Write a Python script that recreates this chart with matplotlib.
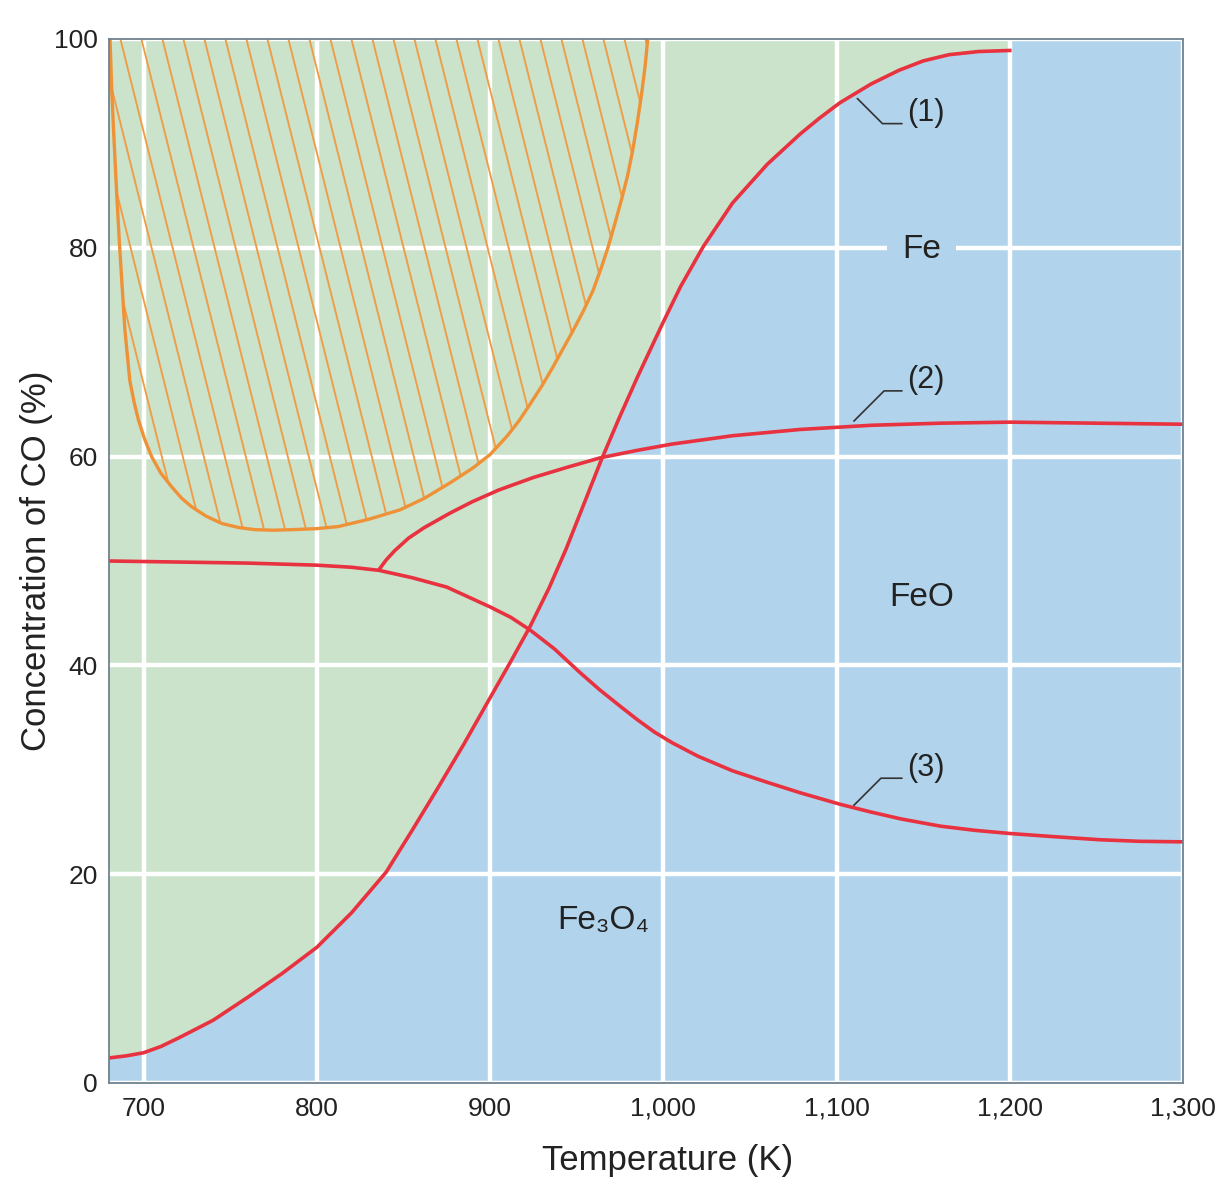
import numpy as np
import matplotlib
matplotlib.use('Agg')
import matplotlib.pyplot as plt
from matplotlib.collections import LineCollection
from matplotlib.patches import Polygon

plt.rcParams['font.family'] = ['Liberation Sans', 'DejaVu Sans']

# ---------------- data ----------------
# Curve (1): separates the green (upper-left) and blue regions
curve1_T = [680, 690, 700, 710, 720, 740, 760, 780, 800, 820, 840, 855, 870, 885, 900,
            912, 923, 934, 944, 954, 964, 974, 985, 1000, 1010, 1023, 1040, 1060, 1079,
            1090, 1102, 1120, 1136, 1150, 1165, 1182, 1200]
curve1_CO = [2.4, 2.6, 2.9, 3.5, 4.3, 6.0, 8.2, 10.5, 13.0, 16.3, 20.2, 24.2, 28.3, 32.5, 36.9,
             40.4, 43.7, 47.4, 51.2, 55.4, 59.6, 63.5, 67.6, 72.9, 76.3, 80.1, 84.3, 88.0, 90.9,
             92.4, 93.9, 95.7, 97.0, 97.9, 98.5, 98.8, 98.9]

# Curve (2): FeO / Fe equilibrium
curve2_T = [836, 840, 845, 853, 862, 877, 890, 905, 925, 945, 964, 985, 1005, 1040, 1079,
            1120, 1160, 1200, 1250, 1300]
curve2_CO = [49.2, 50.1, 51.0, 52.2, 53.2, 54.6, 55.7, 56.8, 58.0, 59.0, 59.9, 60.6, 61.2, 62.0, 62.6,
             63.0, 63.2, 63.3, 63.2, 63.1]

# Curve (3): Fe3O4 / FeO (and Fe3O4 / Fe at low T)
curve3_T = [680, 720, 760, 800, 820, 836, 855, 875, 900, 912, 923, 937, 952, 963, 975,
            985, 995, 1005, 1020, 1040, 1060, 1079, 1102, 1120, 1137, 1160, 1180, 1200,
            1225, 1252, 1275, 1300]
curve3_CO = [50.0, 49.9, 49.8, 49.6, 49.4, 49.1, 48.4, 47.5, 45.6, 44.6, 43.4, 41.6, 39.3, 37.7, 36.1,
             34.8, 33.6, 32.6, 31.3, 29.9, 28.8, 27.8, 26.7, 25.95, 25.3, 24.6, 24.2, 23.9,
             23.6, 23.3, 23.15, 23.1]

# Orange boundary of the hatched region
orange_T = [680.6, 681.6, 683.0, 684.5, 686.0, 687.5, 689.2, 692.0, 694.5, 697.0, 700.5, 704.6,
            710, 716.2, 722, 727.7, 736, 745, 755, 764.3, 775, 785.5, 800, 812.4, 830, 848,
            862, 877, 890, 900, 910, 917, 923, 930, 936, 942, 948, 954, 959.4, 964, 968,
            972, 976, 979.5, 982.5, 985, 987.5, 989.5, 991]
orange_CO = [100, 95, 90, 85, 80.5, 76.5, 72.1, 67.3, 65.2, 63.5, 61.7, 60.0,
             58.4, 57.1, 56.0, 55.2, 54.3, 53.6, 53.2, 53.0, 52.95, 53.0, 53.1, 53.3, 54.0, 54.9,
             56.0, 57.5, 58.9, 60.2, 62.0, 63.5, 65.0, 66.8, 68.5, 70.3, 72.1, 74.0, 75.9, 78.0, 80.0,
             82.3, 84.7, 87.0, 89.5, 92.0, 94.8, 97.4, 100]

x_ticks = [700, 800, 900, 1000, 1100, 1200, 1300]
x_tick_labels = ['700', '800', '900', '1,000', '1,100', '1,200', '1,300']
y_ticks = [0, 20, 40, 60, 80, 100]
y_tick_labels = ['0', '20', '40', '60', '80', '100']

# ---------------- style ----------------
GREEN = '#cbe2cb'
BLUE = '#b1d3ec'
RED = '#e8323f'
ORANGE = '#ef9237'
HATCH = '#f09c45'
TEXT = '#222222'
SPINE = '#6f8290'

W, H = 1222, 1182
fig = plt.figure(figsize=(W / 100, H / 100), dpi=100)
ax = fig.add_axes([109 / W, 99 / H, 1074 / W, 1044 / H])
ax.set_facecolor(BLUE)
ax.set_xlim(680, 1300)
ax.set_ylim(0, 100)

# green region above curve (1)
ax.fill_between(curve1_T, curve1_CO, 100, color=GREEN, lw=0, zorder=1)

# grid / ticks
ax.set_xticks(x_ticks)
ax.set_xticklabels(x_tick_labels)
ax.set_yticks(y_ticks)
ax.set_yticklabels(y_tick_labels)
ax.set_axisbelow(False)
ax.grid(True, color='white', lw=3.2)
ax.tick_params(length=0, labelsize=19, labelcolor=TEXT)
ax.tick_params(axis='x', pad=10)
ax.tick_params(axis='y', pad=8)

for s in ax.spines.values():
    s.set_color(SPINE)
    s.set_linewidth(1.3)
    s.set_zorder(8)

# hatched region (steep diagonal lines clipped to the orange boundary)
poly = Polygon(np.column_stack([orange_T, orange_CO]), closed=True,
               facecolor='none', edgecolor='none', zorder=0)
ax.add_patch(poly)
ax_w, ax_h = 1074.0, 1044.0
slope = 0.25  # horizontal px per vertical px
step = 21.0 / ax_w
offsets = np.arange(-0.4, 0.7, step)
segs = [[(x0, 1.0), (x0 + slope * ax_h / ax_w, 0.0)] for x0 in offsets]
lc = LineCollection(segs, colors=HATCH, linewidths=1.35, transform=ax.transAxes, zorder=3)
ax.add_collection(lc)
lc.set_clip_path(poly)

ax.plot(orange_T, orange_CO, color=ORANGE, lw=2.4, zorder=4,
        solid_capstyle='butt', solid_joinstyle='round')

# red equilibrium curves
for T, C in [(curve1_T, curve1_CO), (curve2_T, curve2_CO), (curve3_T, curve3_CO)]:
    ax.plot(T, C, color=RED, lw=2.6, zorder=5, solid_joinstyle='round')

# region labels
ax.text(1149, 79.8, 'Fe', ha='center', va='center', fontsize=24, color=TEXT, zorder=6,
        bbox=dict(boxstyle='square,pad=0.45', fc=BLUE, ec='none'))
ax.text(1149, 46.5, 'FeO', ha='center', va='center', fontsize=24, color=TEXT, zorder=6)
ax.text(965, 15.6, 'Fe\u2083O\u2084', ha='center', va='center', fontsize=24, color=TEXT, zorder=6)

# curve annotations
ann = [('(1)', (1112, 94.3), (1141, 92.9), -45),
       ('(2)', (1110, 63.4), (1141, 67.3), 45),
       ('(3)', (1110, 26.6), (1141, 30.2), 45)]
for lab, xy, xyt, angB in ann:
    ax.annotate(lab, xy=xy, xytext=xyt, ha='left', va='center', fontsize=22, color=TEXT,
                zorder=7,
                arrowprops=dict(arrowstyle='-', color='#333333', lw=1.2,
                                connectionstyle='angle,angleA=0,angleB=%d,rad=0' % angB,
                                relpos=(0, 0.15), shrinkA=2, shrinkB=0))

ax.set_xlabel('Temperature (K)', fontsize=25, color=TEXT)
ax.xaxis.set_label_coords(0.52, -0.058)
ax.set_ylabel('Concentration of CO (%)', fontsize=25, color=TEXT)
ax.yaxis.set_label_coords(-0.052, 0.5)

fig.savefig('out.png', dpi=100)
